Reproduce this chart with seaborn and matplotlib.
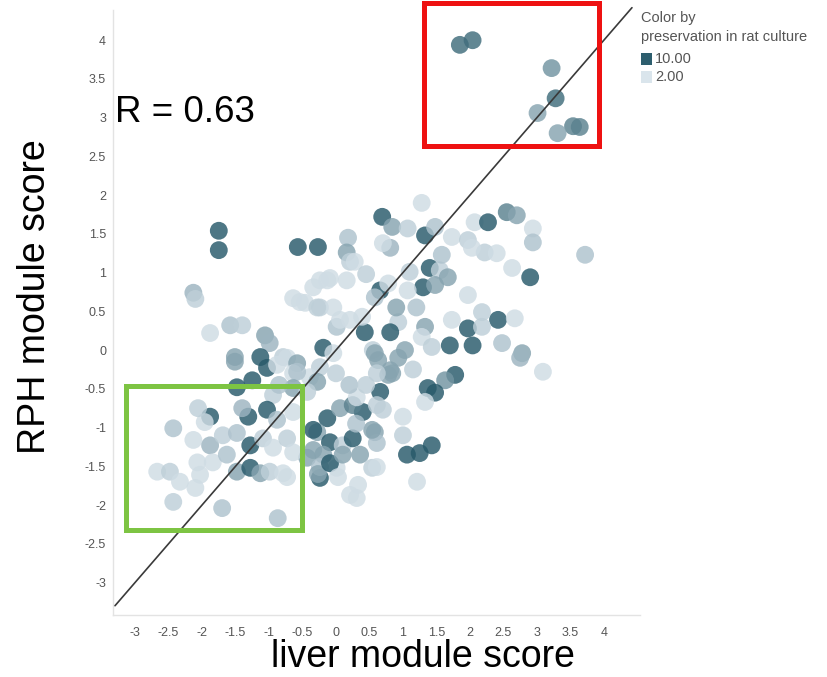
import numpy as np
import pandas as pd
import seaborn as sns
import matplotlib
matplotlib.use("Agg")
import matplotlib.pyplot as plt
from matplotlib.colors import LinearSegmentedColormap
from matplotlib.patches import Rectangle

# module scores per gene set and preservation level used for colouring
liver = [
    1.85, 2.04, 3.22, 3.28, 3.01, 3.54, 3.64, 3.31,
    -1.75, -1.75, -0.57, -0.27, 0.18, 0.16, 0.21, -2.13, -2.10,
    -0.24, -0.09, 0.16, -0.64, -0.46, -0.24, -0.04, 0.01, 0.21,
    -1.58, -1.40, -1.88, -1.06, -0.99, -0.19, -0.04, -1.51, -1.13, -0.79,
    -0.73, -0.58, -0.64, -0.24, -0.39, -1.03, 0.06, 0.55, 0.81, -0.13, -0.34, -0.54, -0.28,
    1.28, 0.69, 0.84, 1.07, 1.33, 1.48, 1.73, 1.97, 2.07, 2.27, 2.55, 2.70, 2.94, 2.94,
    2.22, 2.40, 2.03, 3.72, 0.81, 0.70, 2.63, 2.90, 1.40, 1.55, 1.58, 1.67, 1.30, 1.48,
    1.07, 1.10, 0.66, 0.58, 0.78, 1.97, 2.18, 2.42, 2.67, 1.73, 1.97, 1.33, 0.93, 0.81,
    0.43, 0.39, 1.70, 2.04, 2.48, 2.78, 1.28, 1.03, 1.43, 2.18, 0.28, 0.58,
    3.09, 2.75, 1.78, 1.63, 1.37, 1.48, 1.33, 0.66, 0.78, 0.63, 0.93, 0.40, 0.61, 1.00,
    1.00, 0.58, 0.61, 1.06, 1.25, 1.43, 1.21, 0.36, 0.54, 0.33, 0.31,
    -1.51, -0.58, -0.88, -1.25, -1.48, -0.94, -0.64, -0.28, -1.88, -1.96, -2.06, -2.43,
    -1.31, -1.03, -0.88, -0.64, -0.43, -0.13, 0.06, 0.25, -0.28, -0.09, 0.10, 0.25,
    -0.19, 0.01, -0.24, 0.21, -0.43, -2.13, -1.88, -1.69, -1.48, -1.28, -1.09, -0.94,
    -0.73, -0.64, -2.67, -2.48, -2.33, -2.07, -1.84, -1.63, -1.48, -1.28, -1.13, -0.99,
    -0.79, -0.73, -2.03, -2.43, -2.10, -1.70, -0.87,
    -0.34, -0.34, -0.24, -0.27, -0.09, 0.03, 0.10, 0.54, 0.31, 0.70, 0.61, 0.84, 0.61,
    0.45, 1.20, 0.90, 0.20, 0.00, 0.45, 1.15, -1.40, -0.85, 0.30,
]
rph = [
    3.94, 4.00, 3.64, 3.25, 3.06, 2.89, 2.88, 2.80,
    1.54, 1.29, 1.33, 1.33, 1.45, 1.26, 1.14, 0.74, 0.66,
    0.90, 0.93, 0.90, 0.67, 0.61, 0.55, 0.55, 0.30, 0.39,
    0.32, 0.32, 0.22, 0.19, 0.09, 0.03, -0.04, -0.09, -0.09, -0.09,
    -0.10, -0.17, -0.30, -0.22, -0.35, -0.23, 0.39, 0.00, -0.26, 0.90, 0.81, 0.62, 0.55,
    1.90, 1.72, 1.59, 1.57, 1.48, 1.59, 1.46, 1.42, 1.65, 1.65, 1.78, 1.74, 1.57, 1.39,
    1.26, 1.25, 1.32, 1.23, 1.32, 1.38, 1.06, 0.94, 1.06, 1.03, 1.23, 0.94, 0.81, 0.84,
    0.77, 1.01, 0.77, 0.68, 0.86, 0.71, 0.49, 0.39, 0.41, 0.39, 0.28, 0.30, 0.36, 0.23,
    0.23, 0.43, 0.06, 0.06, 0.09, -0.04, 0.17, 0.00, 0.04, 0.30, 1.14, -0.04,
    -0.28, -0.10, -0.32, -0.39, -0.49, -0.55, -0.67, -0.54, -0.32, -0.13, -0.10, -0.80, -0.71, -0.86,
    -1.10, -1.06, -1.20, -1.35, -1.33, -1.23, -1.70, -1.35, -1.52, -1.74, -1.91,
    -0.15, -0.28, -0.19, -0.39, -0.48, -0.58, -0.49, -0.41, -0.86, -0.93, -0.75, -1.01,
    -0.86, -0.77, -0.90, -0.80, -0.54, -0.88, -0.75, -0.71, -1.06, -1.19, -1.23, -1.14,
    -1.35, -1.52, -1.65, -1.87, -1.39, -1.16, -1.23, -1.10, -1.07, -1.23, -1.14, -1.26,
    -1.14, -1.32, -1.57, -1.57, -1.70, -1.45, -1.45, -1.35, -1.57, -1.52, -1.59, -1.57,
    -1.59, -1.64, -1.61, -1.96, -1.78, -2.04, -2.17,
    -1.03, -1.29, -1.51, -1.60, -1.46, -1.64, -1.35, -1.03, -0.61, -0.77, -1.51, -0.30, -0.30,
    0.98, 0.55, 0.55, -0.45, -0.30, -0.45, -0.25, -0.75, -0.45, -0.95,
]
preservation = [
    9, 9, 7, 9, 6, 8, 8, 6,
    10, 10, 10, 10, 4, 6, 3, 5, 3,
    2, 2, 2, 2, 2, 3, 2, 4, 2,
    4, 3, 2, 6, 5, 10, 2, 6, 10, 3,
    2, 6, 2, 3, 2, 10, 2, 3, 6, 2, 2, 2, 3,
    2, 10, 6, 3, 10, 4, 2, 3, 2, 10, 8, 6, 2, 4,
    3, 2, 2, 4, 5, 2, 2, 10, 10, 3, 4, 6, 10, 6,
    2, 3, 10, 4, 2, 2, 3, 10, 2, 2, 10, 6, 3, 10,
    10, 2, 10, 10, 4, 6, 2, 6, 3, 3, 2, 6,
    2, 5, 10, 7, 10, 10, 2, 10, 6, 6, 6, 10, 3, 2,
    3, 6, 4, 10, 10, 10, 2, 6, 3, 2, 2,
    6, 4, 2, 10, 10, 3, 6, 6, 10, 2, 3, 4,
    10, 10, 4, 2, 3, 10, 6, 8, 6, 10, 3, 10,
    6, 2, 10, 2, 6, 2, 5, 3, 4, 10, 3, 2,
    3, 2, 2, 3, 2, 2, 2, 4, 6, 10, 6, 3,
    2, 2, 2, 3, 2, 4, 4,
    10, 6, 4, 6, 10, 2, 6, 6, 2, 3, 2, 6, 3,
    3, 4, 6, 4, 3, 3, 3, 5, 4, 4,
]

x_ticks = [-3, -2.5, -2, -1.5, -1, -0.5, 0, 0.5, 1, 1.5, 2, 2.5, 3, 3.5, 4]
y_ticks = [-3, -2.5, -2, -1.5, -1, -0.5, 0, 0.5, 1, 1.5, 2, 2.5, 3, 3.5, 4]
tick_labels = ["-3", "-2.5", "-2", "-1.5", "-1", "-0.5", "0", "0.5", "1",
               "1.5", "2", "2.5", "3", "3.5", "4"]
legend_levels = [10.0, 2.0]
r_value = 0.63

sns.set_theme(style="white")
plt.rcParams["font.family"] = ["Liberation Sans", "DejaVu Sans"]

W, H = 827, 677
fig = plt.figure(figsize=(W / 100, H / 100), dpi=100)


def fx(px):
    return px / W


def fy(py):
    return 1 - py / H


ax = fig.add_axes([fx(113), fy(615), fx(640) - fx(113), fy(10) - fy(615)])

df = pd.DataFrame({"liver": liver, "rph": rph, "pres": preservation})
cmap = LinearSegmentedColormap.from_list(
    "pres", ["#cfdce4", "#a3bac5", "#6c8f9c", "#27596a"])

sns.scatterplot(data=df, x="liver", y="rph", hue="pres", palette=cmap,
                hue_norm=(2, 10), s=165, alpha=0.82, linewidth=0,
                legend=False, ax=ax, zorder=2)

ax.set_xlim(-3.33, 4.54)
ax.set_ylim(-3.42, 4.39)

# identity line
ax.plot([-3.3, 4.42], [-3.3, 4.42], color="#3a3a3a", lw=1.2, zorder=3,
        clip_on=False)

ax.set_xticks(x_ticks)
ax.set_xticklabels(tick_labels)
ax.set_yticks(y_ticks)
ax.set_yticklabels(tick_labels)
ax.tick_params(length=0, labelsize=9, colors="#555555")
ax.tick_params(axis="x", pad=9)
ax.tick_params(axis="y", pad=5)
ax.set_xlabel("")
ax.set_ylabel("")
for side in ["top", "right"]:
    ax.spines[side].set_visible(False)
for side in ["left", "bottom"]:
    ax.spines[side].set_color("#e3e3e3")
    ax.spines[side].set_linewidth(1.0)

# axis titles and correlation label
fig.text(fx(423), fy(657), "liver module score", fontsize=27,
         ha="center", va="center", color="black")
fig.text(fx(35), fy(297), "RPH module score", fontsize=27, rotation=90,
         ha="center", va="center", color="black")
fig.text(fx(115), fy(112), f"R = {r_value:.2f}", fontsize=26.5,
         ha="left", va="center", color="black")

# colour legend
fig.text(fx(641), fy(18), "Color by", fontsize=10.5, color="#555555",
         ha="left", va="center")
fig.text(fx(641), fy(37), "preservation in rat culture", fontsize=10.5,
         color="#555555", ha="left", va="center")
legend_colours = {10.0: "#2d5e6e", 2.0: "#dae5ec"}
for i, lvl in enumerate(legend_levels):
    yc = 59 + 18 * i
    fig.patches.append(Rectangle((fx(641), fy(yc + 6)), fx(11), 12 / H,
                                 transform=fig.transFigure,
                                 facecolor=legend_colours[lvl],
                                 edgecolor="none"))
    fig.text(fx(655), fy(yc), f"{lvl:.2f}", fontsize=10.5, color="#555555",
             ha="left", va="center")

# highlight boxes
fig.patches.append(Rectangle((fx(423.5), fy(145.5)), fx(598.5) - fx(423.5),
                             fy(2.5) - fy(145.5), transform=fig.transFigure,
                             fill=False, edgecolor="#ee1111", linewidth=3.6))
fig.patches.append(Rectangle((fx(125.5), fy(529.5)), fx(301.5) - fx(125.5),
                             fy(385.5) - fy(529.5), transform=fig.transFigure,
                             fill=False, edgecolor="#7dc443", linewidth=3.6))

fig.savefig("out.png", dpi=100)
